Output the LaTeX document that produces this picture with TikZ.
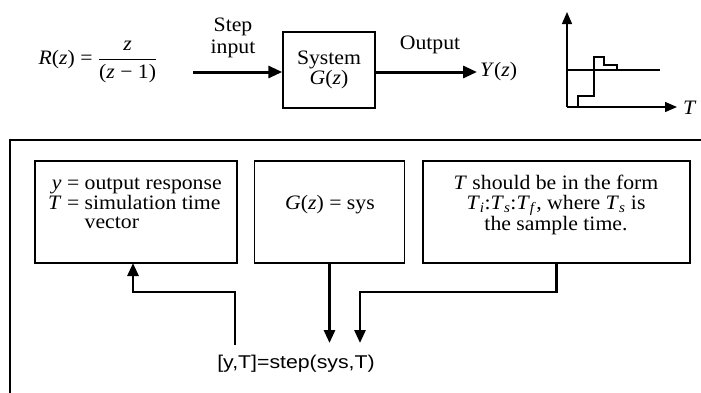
\documentclass[tikz,border=0pt]{standalone}
\usepackage{fontspec}
\setmainfont{Liberation Serif}[FakeStretch=1.06]
\newfontfamily\sansf{Liberation Sans}[FakeStretch=1.15]
\usepackage{amsmath}
\usetikzlibrary{arrows.meta}
\begin{document}
\begin{tikzpicture}[x=1pt,y=-1pt,
  every node/.style={inner sep=0pt,font=\fontsize{20.5}{19.5}\selectfont},
  box/.style={draw,line width=1.5pt},
  toparr/.style={line width=3pt,-{Triangle[length=14pt,width=12pt]}},
  botarr/.style={line width=2.8pt,-{Triangle[length=13pt,width=11pt]}},
  axis/.style={line width=1.4pt,-{Triangle[length=12pt,width=10pt]}},
  resp/.style={line width=2.8pt,line join=miter},
  cmdfont/.style={font=\sansf\fontsize{18.5}{20}\selectfont}]
\useasboundingbox (0,0) rectangle (701,392);
\clip (0,0) rectangle (701,392);

% ---- top: block diagram ----
\node (R) at (98,62) {\textit{R}(\textit{z}) = $\dfrac{\text{\textit{z}}}{\text{(\textit{z} − 1)}}$};
\node[align=center,font=\fontsize{20.5}{22}\selectfont] (stepl) at (233,38) {Step\\input};
\node[box,minimum width=92pt,minimum height=76pt,align=center] (sys) at (329,70) {System\\\textit{G}(\textit{z})};
\coordinate (s0) at (193,72);
\draw[toparr] (s0) -- (sys.west |- s0);
\node (outl) at (430,45) {Output};
\node[anchor=west] (Y) at (480,72) {\textit{Y}(\textit{z})};
\draw[toparr] (sys.east |- Y.west) -- ([xshift=-3pt]Y.west);

% ---- small step plot ----
\coordinate (O) at (567,107);
\coordinate (ytop) at (567,12);
\coordinate (xend) at (677,107);
\draw[axis] (O) -- (ytop);
\draw[axis] (O) -- (xend);
\node[anchor=west] (Tl) at (683,108) {\textit{T}};
\coordinate (ref0) at (567,70);
\coordinate (ref1) at (660,70);
\draw[line width=1.3pt] (ref0) -- (ref1);
\draw[resp] (578,107) -- (578,96) -- (594,96) -- (594,57) -- (604,57) -- (604,65) -- (617,65) -- (617,70);

% ---- bottom frame ----
\draw[line width=1.6pt] (10,420) -- (10,140) -- (720,140);

\node[box,minimum width=202pt,minimum height=102pt] (b1) at (136,212) {};
\node[box,minimum width=150pt,minimum height=102pt] (b2) at (329.5,212) {};
\node[box,minimum width=267pt,minimum height=102pt] (b3) at (556.5,212) {};

\node[anchor=west] (t1) at (48,205) {\begin{tabular}{@{}r@{\ }l@{}}\textit{y} = & output response\\ \textit{T} = & simulation time\\ & vector\end{tabular}};
\node (t2) at (330,205) {\textit{G}(\textit{z}) = sys};
\node[align=center] (t3) at (556,205) {\textit{T} should be in the form\\ \textit{T}\textsubscript{\textit{i}}:\textit{T}\textsubscript{\textit{s}}:\textit{T}\textsubscript{\textit{f}}, where \textit{T}\textsubscript{\textit{s}} is\\ the sample time.};

\node[cmdfont] (cmd) at (296,364) {[y,T]=step(sys,T)};

\coordinate (c1) at (235,345);
\draw[botarr] (c1) -- (235,292) -- (133,292) -- (133,263);
\draw[botarr] (b2.south) -- (b2.south |- 0,343);
\draw[botarr] (b3.south) -- (b3.south |- 0,292) -- (360,292) -- (360,343);
\end{tikzpicture}
\end{document}
